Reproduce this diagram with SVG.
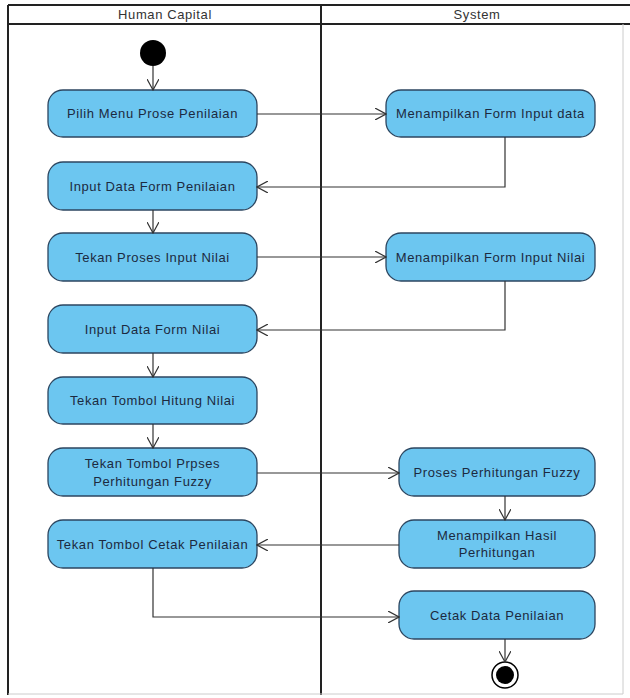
<svg xmlns="http://www.w3.org/2000/svg" width="630" height="698" viewBox="0 0 630 698">
<defs>
<marker id="arr" viewBox="0 0 12 12" refX="11" refY="6" markerWidth="12" markerHeight="12" markerUnits="userSpaceOnUse" orient="auto">
<path d="M0,0 L11,6 L0,12" fill="none" stroke="#333" stroke-width="1.2"/>
</marker>
<style>
.act{fill:#6cc6f0;stroke:#2c4660;stroke-width:1.3}
.t{font-family:"Liberation Sans",Arial,sans-serif;font-size:13px;letter-spacing:0.6px;fill:#1c2a40;text-anchor:middle}
.h{font-family:"Liberation Sans",Arial,sans-serif;font-size:13px;letter-spacing:0.6px;fill:#333;text-anchor:middle}
.c{fill:none;stroke:#333;stroke-width:1.2;marker-end:url(#arr)}
</style>
</defs>
<rect width="630" height="698" fill="#fff"/>
<g id="swimlanes">
<line x1="8" y1="5" x2="630" y2="5" stroke="#222" stroke-width="2"/>
<line x1="8" y1="24" x2="630" y2="24" stroke="#222" stroke-width="2"/>
<line x1="8" y1="5" x2="8" y2="695" stroke="#222" stroke-width="2"/>
<line x1="321" y1="5" x2="321" y2="695" stroke="#222" stroke-width="2"/>
<line x1="623" y1="24" x2="623" y2="694" stroke="#ccc" stroke-width="1"/>
<line x1="8" y1="694" x2="623" y2="694" stroke="#ccc" stroke-width="1"/>
<text class="h" x="165" y="19">Human Capital</text>
<text class="h" x="477" y="19">System</text>
</g>
<g id="start"><circle cx="153" cy="53" r="13" fill="#000"/></g>
<g id="n1"><rect class="act" x="48" y="90" width="209" height="47" rx="15"/><text class="t" x="152.5" y="117.5">Pilih Menu Prose Penilaian</text></g>
<g id="n2"><rect class="act" x="48" y="162" width="209" height="48" rx="15"/><text class="t" x="152.5" y="190.5">Input Data Form Penilaian</text></g>
<g id="n3"><rect class="act" x="48" y="233" width="209" height="48" rx="15"/><text class="t" x="152.5" y="261.5">Tekan Proses Input Nilai</text></g>
<g id="n4"><rect class="act" x="48" y="305" width="209" height="48" rx="15"/><text class="t" x="152.5" y="333.5">Input Data Form Nilai</text></g>
<g id="n5"><rect class="act" x="48" y="377" width="209" height="47" rx="15"/><text class="t" x="152.5" y="405">Tekan Tombol Hitung Nilai</text></g>
<g id="n6"><rect class="act" x="48" y="448" width="209" height="48" rx="15"/><text class="t" x="152.5" y="467.5">Tekan Tombol Prpses</text><text class="t" x="152.5" y="485.5">Perhitungan Fuzzy</text></g>
<g id="n7"><rect class="act" x="48" y="520" width="209" height="48" rx="15"/><text class="t" x="152.5" y="548.5">Tekan Tombol Cetak Penilaian</text></g>
<g id="s1"><rect class="act" x="386" y="90" width="209" height="47" rx="15"/><text class="t" x="490.5" y="117.5">Menampilkan Form Input data</text></g>
<g id="s2"><rect class="act" x="386" y="233" width="209" height="48" rx="15"/><text class="t" x="490.5" y="261.5">Menampilkan Form Input Nilai</text></g>
<g id="s3"><rect class="act" x="399" y="448" width="196" height="48" rx="15"/><text class="t" x="497" y="476.5">Proses Perhitungan Fuzzy</text></g>
<g id="s4"><rect class="act" x="399" y="520" width="196" height="48" rx="15"/><text class="t" x="497" y="539.5">Menampilkan Hasil</text><text class="t" x="497" y="556.5">Perhitungan</text></g>
<g id="s5"><rect class="act" x="399" y="591" width="196" height="48" rx="15"/><text class="t" x="497" y="619.5">Cetak Data Penilaian</text></g>
<g id="end"><circle cx="505" cy="675" r="13" fill="#fff" stroke="#000" stroke-width="1.5"/><circle cx="505" cy="675" r="9" fill="#000"/></g>
<g id="connectors">
<path class="c" d="M153,66 V90"/>
<path class="c" d="M257,114 H386"/>
<path class="c" d="M505,137 V187 H257"/>
<path class="c" d="M153,210 V233"/>
<path class="c" d="M257,257 H386"/>
<path class="c" d="M505,281 V330 H257"/>
<path class="c" d="M153,353 V377"/>
<path class="c" d="M153,424 V448"/>
<path class="c" d="M257,473 H399"/>
<path class="c" d="M505,496 V520"/>
<path class="c" d="M399,545 H257"/>
<path class="c" d="M153,568 V617 H399"/>
<path class="c" d="M505,639 V662"/>
</g>
</svg>
